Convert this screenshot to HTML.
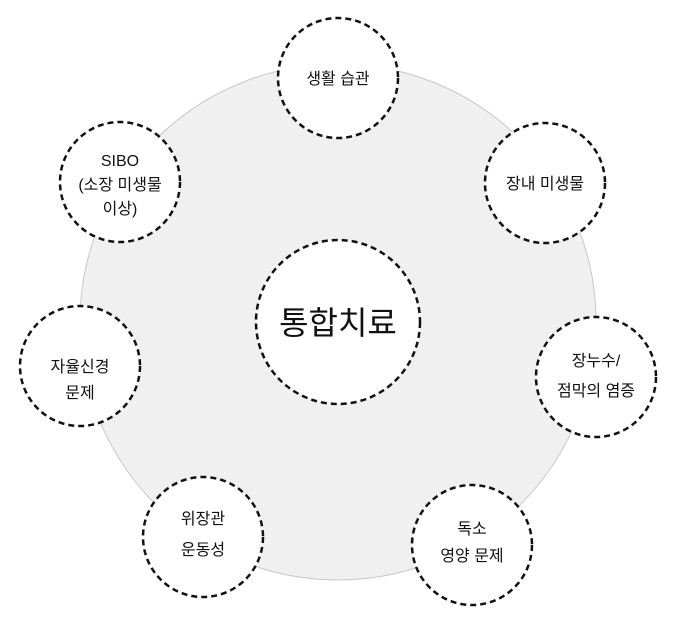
<!DOCTYPE html>
<html><head><meta charset="utf-8"><style>
html,body{margin:0;padding:0;background:#fff;}
svg text{font-family:"Liberation Sans","Noto Sans CJK KR",sans-serif;fill:#111;text-anchor:middle;}
</style></head><body>
<svg width="680" height="634" viewBox="0 0 680 634" xmlns="http://www.w3.org/2000/svg">
<circle cx="338" cy="322" r="258" fill="#f0f0f0" stroke="#c8c8c8" stroke-width="1"/>
<g fill="#fff" stroke="#111" stroke-width="2.5" stroke-dasharray="6 4">
<circle cx="338" cy="322" r="82"/>
<circle cx="338" cy="78" r="60"/>
<circle cx="545" cy="183" r="60"/>
<circle cx="596" cy="377" r="60"/>
<circle cx="472" cy="545" r="60"/>
<circle cx="203" cy="537" r="60"/>
<circle cx="80" cy="366" r="60"/>
<circle cx="120" cy="182" r="60"/>
</g>
<text x="338" y="334" font-size="32">통합치료</text>
<g font-size="16">
<text x="338" y="84">생활 습관</text>
<text x="545" y="189">장내 미생물</text>
<text x="596" y="366">장누수/</text>
<text x="596" y="396">점막의 염증</text>
<text x="472" y="534">독소</text>
<text x="472" y="561">영양 문제</text>
<text x="203" y="524">위장관</text>
<text x="203" y="555">운동성</text>
<text x="80" y="372">자율신경</text>
<text x="80" y="398">문제</text>
<text x="120" y="166">SIBO</text>
<text x="120" y="190">(소장 미생물</text>
<text x="120" y="214">이상)</text>
</g>
</svg>
</body></html>
